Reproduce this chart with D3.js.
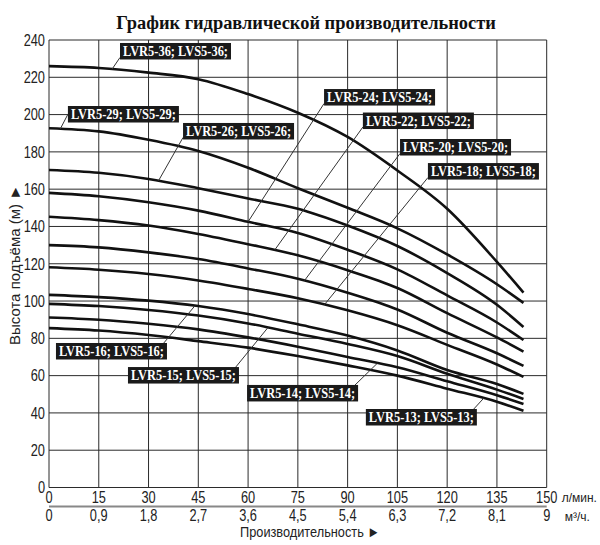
<!DOCTYPE html>
<html>
<head>
<meta charset="utf-8">
<script src="https://cdn.jsdelivr.net/npm/d3@7"></script>
<style>
  body { margin: 0; background: #fff; }
  .tick-text { font-family: "Liberation Sans", Arial, sans-serif; fill: #222; }
</style>
</head>
<body>
<svg id="chart"></svg>
<script>
// Flow points (l/min) where the head of every pump was read
var flowLmin = [0, 15, 30, 45, 60, 75, 90, 105, 120, 135, 143];

// Head (m) of each model at the flow points above
var head36 = [226, 225, 222.5, 219, 211, 201, 188, 170, 149.5, 121, 104.5];
var head29 = [192.7, 191, 186.5, 180.5, 171.5, 160.5, 150, 139, 125, 109, 99];
var head26 = [170.3, 168.8, 165.5, 160.5, 155, 149.5, 140.5, 129.5, 115, 98, 86.1];
var head24 = [158, 156.2, 153, 148.5, 142.5, 136.5, 127.5, 117, 103, 88.5, 79.1];
var head22 = [145.2, 143.4, 140.5, 136, 130.5, 124.5, 116.5, 107, 93.5, 80.5, 72.9];
var head20 = [130, 128.8, 126.1, 122.5, 117.5, 112, 104.5, 95.5, 83, 72, 65.2];
var head18 = [118.1, 116.8, 114.5, 111, 106.5, 101.5, 95, 87, 76.5, 66, 59.3];
var head16 = [103.3, 102.1, 100.2, 97.3, 93, 87.5, 81.5, 73.5, 63, 55.5, 50.2];
var head15 = [98.5, 97.3, 95.2, 92.2, 88, 82.5, 77, 70.5, 61, 52.5, 47.5];
var head14 = [91.2, 90, 87.8, 84.8, 80.5, 75.5, 70, 64.5, 57, 49.5, 44.8];
var head13 = [85.5, 84.2, 81.8, 78.5, 75, 70.5, 65.5, 60, 53, 46, 41.2];

// Model names, in the same order as the head arrays
var models = ["LVR5-36; LVS5-36;", "LVR5-29; LVS5-29;", "LVR5-26; LVS5-26;", "LVR5-24; LVS5-24;",
              "LVR5-22; LVS5-22;", "LVR5-20; LVS5-20;", "LVR5-18; LVS5-18;", "LVR5-16; LVS5-16;",
              "LVR5-15; LVS5-15;", "LVR5-14; LVS5-14;", "LVR5-13; LVS5-13;"];
var heads = [head36, head29, head26, head24, head22, head20, head18, head16, head15, head14, head13];

// Flow where each label's pointer touches its curve
var pointerFlow = [19, 3.4, 33, 60, 68, 77, 83, 44, 66, 99, 131];

// Axis ticks
var flowTicks = [0, 15, 30, 45, 60, 75, 90, 105, 120, 135, 150];
var m3hTicks = ["0", "0,9", "1,8", "2,7", "3,6", "4,5", "5,4", "6,3", "7,2", "8,1", "9"];
var headTicks = [0, 20, 40, 60, 80, 100, 120, 140, 160, 180, 200, 220, 240];

var width = 600, height = 545;

var svg = d3.select("#chart")
    .attr("width", width)
    .attr("height", height);

var x = d3.scaleLinear().domain([0, 150]).range([49, 546.7]);
var y = d3.scaleLinear().domain([0, 240]).range([487.5, 40]);

// Label box placement, in chart units (flow of left edge, head of top edge)
var labelPos = [[21.4, 238.4], [5.7, 204.6], [40.4, 195.5], [82.9, 213.7], [94.6, 201.1], [105.8, 186.9],
                [114.2, 174], [2.1, 77.5], [23.8, 64.6], [59.7, 55], [95.5, 42.1]];
// which corner the pointer leaves from: bottom-left, left-middle, top-right
var pointerFrom = ["bl", "lm", "bl", "bl", "bl", "bl", "bl", "tr", "tr", "tr", "tr"];

// squeeze a text to look like a narrow font
function narrow(sel, k) {
    sel.each(function() {
        var w = this.getComputedTextLength();
        d3.select(this)
            .attr("textLength", w * k)
            .attr("lengthAdjust", "spacingAndGlyphs");
    });
}

// Grid
var grid = svg.append("g").attr("stroke", "#2b2b2b").attr("stroke-width", 1);
grid.selectAll(".vg")
    .data(flowTicks)
    .enter().append("line")
    .attr("x1", d => x(d)).attr("x2", d => x(d))
    .attr("y1", y(0)).attr("y2", y(240));
grid.selectAll(".hg")
    .data(headTicks)
    .enter().append("line")
    .attr("x1", x(0)).attr("x2", x(150))
    .attr("y1", d => y(d)).attr("y2", d => y(d));

// Y tick labels
svg.selectAll(".ylab")
    .data(headTicks)
    .enter().append("text")
    .attr("class", "tick-text")
    .attr("x", x(0) - 4)
    .attr("y", d => y(d))
    .attr("dy", "0.36em")
    .attr("text-anchor", "end")
    .attr("font-size", 16)
    .text(d => d)
    .call(narrow, 0.8);

// X tick labels, l/min row
svg.selectAll(".xlab")
    .data(flowTicks)
    .enter().append("text")
    .attr("class", "tick-text")
    .attr("x", d => x(d))
    .attr("y", 503)
    .attr("text-anchor", "middle")
    .attr("font-size", 16)
    .text(d => d)
    .call(narrow, 0.8);

// separator between the two flow scales
svg.append("line")
    .attr("x1", x(0)).attr("x2", x(150))
    .attr("y1", 506.5).attr("y2", 506.5)
    .attr("stroke", "#888")
    .attr("stroke-width", 2);

// X tick labels, m3/h row
svg.selectAll(".xlab2")
    .data(m3hTicks)
    .enter().append("text")
    .attr("class", "tick-text")
    .attr("x", (d, i) => x(flowTicks[i]))
    .attr("y", 521)
    .attr("text-anchor", "middle")
    .attr("font-size", 16)
    .text(d => d)
    .call(narrow, 0.8);

svg.append("text")
    .attr("class", "tick-text")
    .attr("x", x(150) + 15)
    .attr("y", 502)
    .attr("font-size", 12)
    .text("л/мин.");

svg.append("text")
    .attr("class", "tick-text")
    .attr("x", x(150) + 18)
    .attr("y", 521)
    .attr("font-size", 12)
    .text("м³/ч.");

// Axis titles
svg.append("text")
    .attr("class", "tick-text")
    .attr("x", 310)
    .attr("y", 537)
    .attr("text-anchor", "middle")
    .attr("font-size", 15)
    .text("Производительность ►")
    .call(narrow, 0.85);

// rotated text: the arrow points along the reading direction, i.e. up
svg.append("text")
    .attr("class", "tick-text")
    .attr("transform", "translate(20," + 265 + ") rotate(-90)")
    .attr("text-anchor", "middle")
    .attr("font-size", 15)
    .text("Высота подъёма (м) ►");

// Title
svg.append("text")
    .attr("x", 306)
    .attr("y", 29)
    .attr("text-anchor", "middle")
    .attr("font-family", "'Liberation Serif', 'Times New Roman', serif")
    .attr("font-weight", "bold")
    .attr("font-size", 18.4)
    .attr("fill", "#111")
    .text("График гидравлической производительности");

// Curves
var line = d3.line()
    .x((d, i) => x(flowLmin[i]))
    .y(d => y(d))
    .curve(d3.curveMonotoneX);

svg.selectAll(".curve")
    .data(heads)
    .enter().append("path")
    .attr("d", line)
    .attr("fill", "none")
    .attr("stroke", "#111")
    .attr("stroke-width", 2.6);

// head of a model at a given flow, following the drawn points
function headAt(h, q) {
    var i = d3.bisectRight(flowLmin, q) - 1;
    i = Math.max(0, Math.min(i, flowLmin.length - 2));
    var t = (q - flowLmin[i]) / (flowLmin[i + 1] - flowLmin[i]);
    return h[i] + (h[i + 1] - h[i]) * t;
}

// Labels with pointer lines
var boxW = 111, boxH = 16.5;
var labels = svg.selectAll(".lab")
    .data(models)
    .enter().append("g");

labels.append("line")
    .attr("x1", (d, i) => {
        var bx = x(labelPos[i][0]);
        return pointerFrom[i] == "tr" ? bx + boxW - 4 : bx;
    })
    .attr("y1", (d, i) => {
        var by = y(labelPos[i][1]);
        if (pointerFrom[i] == "bl") return by + boxH - 2;
        if (pointerFrom[i] == "lm") return by + boxH / 2;
        return by + 1;
    })
    .attr("x2", (d, i) => x(pointerFlow[i]))
    .attr("y2", (d, i) => y(headAt(heads[i], pointerFlow[i])))
    .attr("stroke", "#333")
    .attr("stroke-width", 1);

labels.append("rect")
    .attr("x", (d, i) => x(labelPos[i][0]))
    .attr("y", (d, i) => y(labelPos[i][1]))
    .attr("width", boxW)
    .attr("height", boxH)
    .attr("fill", "#1a1a1a");

labels.append("text")
    .attr("x", (d, i) => x(labelPos[i][0]) + 3)
    .attr("y", (d, i) => y(labelPos[i][1]) + 13)
    .attr("font-family", "'Liberation Serif', 'Times New Roman', serif")
    .attr("font-weight", "bold")
    .attr("font-size", 14.5)
    .attr("fill", "#fff")
    .attr("textLength", boxW - 6)
    .attr("lengthAdjust", "spacingAndGlyphs")
    .text(d => d);
</script>
</body>
</html>
